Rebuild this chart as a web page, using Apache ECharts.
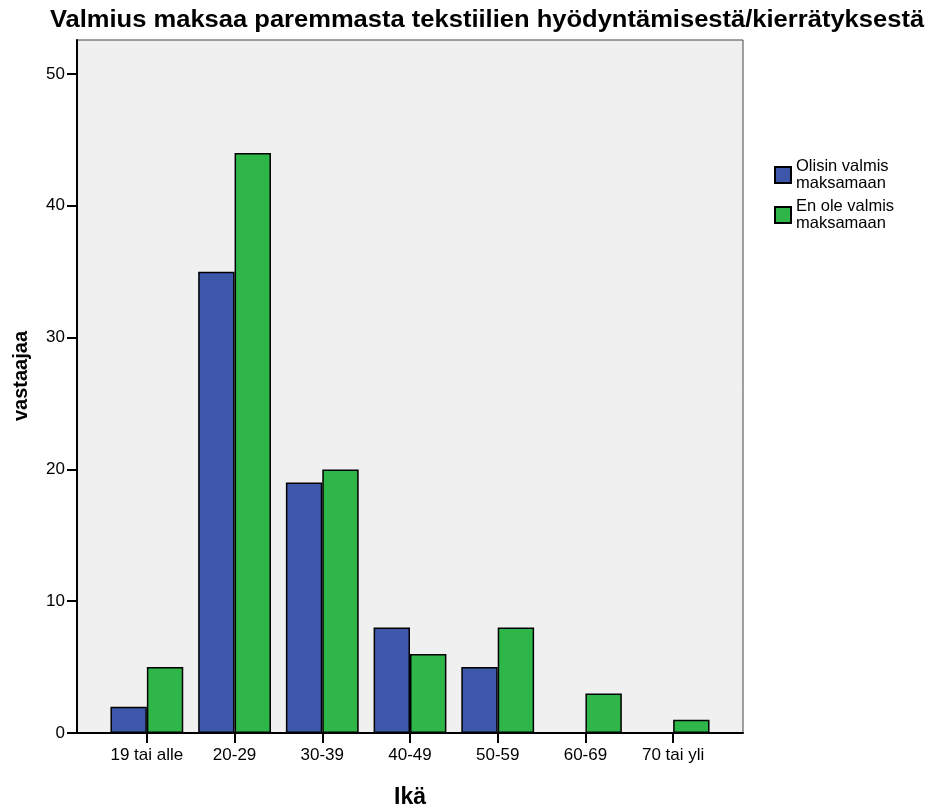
<!DOCTYPE html>
<html>
<head>
<meta charset="utf-8">
<script src="https://cdn.jsdelivr.net/npm/echarts@6/dist/echarts.min.js"></script>
<style>
  html, body { margin: 0; padding: 0; background: #ffffff; }
  #chart { width: 937px; height: 807px; }
</style>
</head>
<body>
<div id="chart"></div>
<script>
// Age groups and respondent counts per answer
const ageGroups = ['19 tai alle', '20-29', '30-39', '40-49', '50-59', '60-69', '70 tai yli'];
const willingCounts = [2, 35, 19, 8, 5, 0, 0];
const notWillingCounts = [5, 44, 20, 6, 8, 3, 1];
const seriesNames = ['Olisin valmis maksamaan', 'En ole valmis maksamaan'];
const yTicks = { min: 0, max: 50, interval: 10 };

const FONT = '"Liberation Sans", Arial, sans-serif';
const BLUE = '#3e57aa';
const GREEN = '#2eb748';

const chart = echarts.init(document.getElementById('chart'), null, { renderer: 'canvas' });

const barStyle = (color) => ({ color: color, borderColor: '#000000', borderWidth: 1.5 });
// empty groups get no bar at all (not even a flat outline)
const toBarData = (counts) => counts.map((v) => (v === 0 ? '-' : v));

chart.setOption({
  animation: false,
  backgroundColor: '#ffffff',
  textStyle: { fontFamily: FONT, color: '#000000' },
  legend: {
    orient: 'vertical',
    left: 774,
    top: 158,
    padding: 0,
    itemWidth: 16,
    itemHeight: 16,
    itemGap: 6,
    icon: 'rect',
    data: seriesNames,
    formatter: (name) => name.replace(' maksamaan', '\nmaksamaan'),
    textStyle: { fontFamily: FONT, fontSize: 16.5, lineHeight: 17, color: '#000000' }
  },
  grid: [
    // plot frame with shaded background
    { left: 77, top: 40, width: 666, height: 693, show: true, backgroundColor: '#f0f0f0',
      borderColor: '#444444', borderWidth: 1, containLabel: false, outerBoundsMode: 'none' },
    // bar area
    { left: 103, top: 74, width: 614, height: 659, containLabel: false, outerBoundsMode: 'none' }
  ],
  xAxis: [
    { gridIndex: 0, type: 'value', min: 0, max: 1,
      axisLine: { show: true, lineStyle: { color: '#000000', width: 2 } },
      axisTick: { show: false }, axisLabel: { show: false }, splitLine: { show: false } },
    { gridIndex: 1, type: 'category', data: ageGroups,
      axisLine: { show: false },
      axisTick: { show: true, alignWithLabel: true, interval: 0, length: 10,
                  lineStyle: { color: '#000000', width: 2 } },
      axisLabel: { interval: 0, fontFamily: FONT, fontSize: 17, color: '#000000', margin: 14 },
      name: 'Ikä', nameLocation: 'middle', nameGap: 53,
      nameTextStyle: { fontFamily: FONT, fontSize: 23, fontWeight: 'bold', color: '#000000' } }
  ],
  yAxis: [
    { gridIndex: 0, type: 'value', min: 0, max: 1,
      axisLine: { show: true, lineStyle: { color: '#000000', width: 2 } },
      axisTick: { show: false }, axisLabel: { show: false }, splitLine: { show: false } },
    { gridIndex: 1, type: 'value', min: yTicks.min, max: yTicks.max, interval: yTicks.interval,
      offset: 26,
      axisLine: { show: false },
      axisTick: { show: true, length: 10, lineStyle: { color: '#000000', width: 2 } },
      axisLabel: { fontFamily: FONT, fontSize: 17, color: '#000000', margin: 12 },
      splitLine: { show: false } }
  ],
  graphic: [
    // chart title, drawn slightly widened
    { type: 'text', x: 487, y: 21, scaleX: 1.11, scaleY: 1,
      style: { text: 'Valmius maksaa paremmasta tekstiilien hyödyntämisestä/kierrätyksestä',
               font: 'bold 23px ' + FONT, fill: '#000000',
               textAlign: 'center', textVerticalAlign: 'middle' } },
    // y-axis title
    { type: 'text', x: 21, y: 376, rotation: Math.PI / 2,
      style: { text: 'vastaajaa', font: 'bold 20px ' + FONT, fill: '#000000',
               textAlign: 'center', textVerticalAlign: 'middle' } }
  ],
  series: [
    { name: seriesNames[0], type: 'bar', xAxisIndex: 1, yAxisIndex: 1,
      data: toBarData(willingCounts), barGap: '0%', barCategoryGap: '17%', itemStyle: barStyle(BLUE) },
    { name: seriesNames[1], type: 'bar', xAxisIndex: 1, yAxisIndex: 1,
      data: toBarData(notWillingCounts), barGap: '0%', barCategoryGap: '17%', itemStyle: barStyle(GREEN) }
  ]
});
</script>
</body>
</html>
